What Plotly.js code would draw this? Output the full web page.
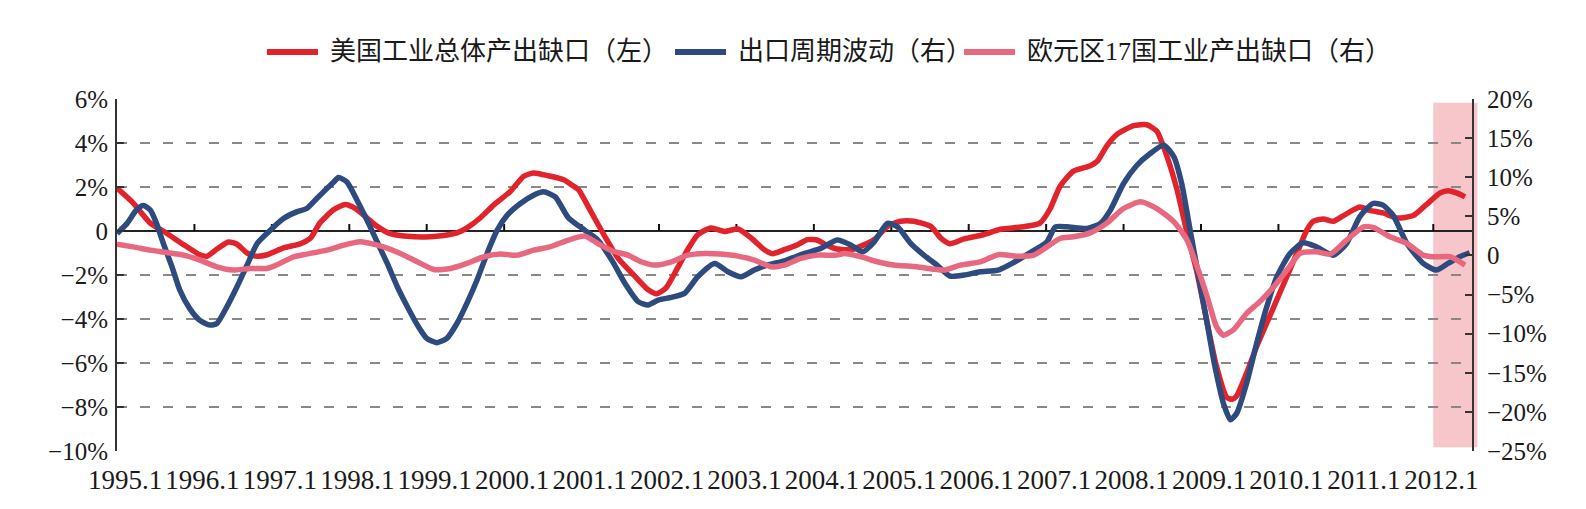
<!DOCTYPE html>
<html>
<head>
<meta charset="utf-8">
<script src="https://cdn.plot.ly/plotly-3.0.1.min.js"></script>
<style>
html,body{margin:0;padding:0;background:#fff;}
#chart{width:1586px;height:509px;}
</style>
</head>
<body>
<div id="chart"></div>
<script>
// ---------- series names ----------
const nameUS = '美国工业总体产出缺口（左）';
const nameExport = '出口周期波动（右）';
const nameEU = '欧元区17国工业产出缺口（右）';

// ---------- US industrial output gap (left axis, %) ----------
const usX = [1995.00,1995.21,1995.43,1995.64,1995.86,1996.07,1996.16,1996.29,1996.44,1996.55,1996.68,1996.81,1996.94,
  1997.15,1997.37,1997.50,1997.62,1997.80,1997.95,1998.10,1998.23,1998.36,1998.53,1998.75,1998.98,1999.22,1999.39,
  1999.52,1999.69,1999.87,2000.08,2000.25,2000.38,2000.56,2000.77,2000.90,2000.96,2001.13,2001.30,2001.47,2001.69,
  2001.86,2001.97,2002.09,2002.24,2002.37,2002.50,2002.67,2002.85,2003.02,2003.19,2003.36,2003.47,2003.62,2003.79,
  2003.92,2004.05,2004.18,2004.30,2004.48,2004.60,2004.78,2004.95,2005.12,2005.29,2005.51,2005.64,2005.76,2005.94,
  2006.19,2006.41,2006.67,2006.92,2007.05,2007.18,2007.35,2007.57,2007.66,2007.78,2007.91,2008.13,2008.30,2008.43,
  2008.56,2008.69,2008.82,2008.95,2009.08,2009.20,2009.33,2009.40,2009.46,2009.59,2009.72,2009.85,2009.98,2010.11,
  2010.24,2010.37,2010.45,2010.58,2010.71,2010.84,2011.05,2011.18,2011.35,2011.53,2011.74,2011.91,2012.09,2012.19,
  2012.30,2012.41];
const usY = [1.95,1.27,0.36,-0.10,-0.62,-1.08,-1.15,-0.82,-0.50,-0.60,-1.00,-1.15,-1.08,
  -0.77,-0.58,-0.32,0.36,0.97,1.20,0.97,0.59,0.21,-0.12,-0.24,-0.27,-0.20,-0.09,
  0.14,0.59,1.20,1.80,2.48,2.64,2.52,2.33,2.03,1.88,0.82,-0.24,-1.23,-2.06,
  -2.67,-2.85,-2.59,-1.68,-0.85,-0.17,0.14,-0.02,0.09,-0.32,-0.85,-1.03,-0.85,-0.62,
  -0.39,-0.42,-0.67,-0.82,-0.85,-0.70,-0.39,0.21,0.44,0.44,0.21,-0.32,-0.58,-0.36,
  -0.17,0.08,0.18,0.36,1.00,2.03,2.71,2.97,3.17,3.85,4.38,4.79,4.83,4.53,
  3.39,1.88,-0.09,-1.91,-4.18,-6.15,-7.55,-7.65,-7.50,-6.45,-5.24,-4.18,-3.12,-2.06,
  -1.00,0.06,0.44,0.55,0.44,0.70,1.09,0.94,0.82,0.59,0.70,1.20,1.73,1.83,
  1.73,1.55];

// ---------- export cycle (right axis, %) ----------
const expX = [1995.00,1995.13,1995.25,1995.34,1995.43,1995.51,1995.60,1995.71,1995.81,1995.94,1996.07,1996.20,1996.29,
  1996.42,1996.55,1996.68,1996.81,1996.98,1997.15,1997.32,1997.45,1997.58,1997.71,1997.80,1997.86,1997.97,1998.10,
  1998.23,1998.36,1998.49,1998.62,1998.75,1998.88,1999.00,1999.13,1999.26,1999.39,1999.52,1999.65,1999.78,1999.91,
  2000.04,2000.21,2000.38,2000.51,2000.66,2000.83,2001.04,2001.21,2001.39,2001.56,2001.73,2001.86,2001.99,2002.16,
  2002.33,2002.50,2002.72,2002.89,2003.06,2003.23,2003.40,2003.62,2003.88,2004.09,2004.30,2004.48,2004.63,2004.78,
  2004.95,2005.08,2005.25,2005.42,2005.59,2005.76,2005.94,2006.15,2006.38,2006.58,2006.80,2007.01,2007.12,2007.27,
  2007.53,2007.70,2007.83,2008.00,2008.17,2008.34,2008.52,2008.65,2008.75,2008.86,2008.97,2009.08,2009.18,2009.29,
  2009.38,2009.46,2009.59,2009.72,2009.85,2009.98,2010.15,2010.32,2010.49,2010.71,2010.88,2011.05,2011.22,2011.35,
  2011.48,2011.66,2011.87,2012.04,2012.19,2012.34,2012.47];
const expY = [2.81,4.10,5.80,6.40,5.80,4.10,1.50,-1.45,-4.40,-6.80,-8.30,-8.90,-8.70,
  -6.55,-4.00,-1.23,1.53,3.23,4.72,5.57,6.00,7.28,8.55,9.40,9.96,9.40,7.06,
  4.50,1.74,-1.02,-4.00,-6.55,-8.90,-10.60,-11.15,-10.60,-8.70,-6.10,-3.15,0.26,3.23,
  5.15,6.64,7.70,8.13,7.49,4.80,3.23,1.96,-0.60,-3.57,-5.90,-6.34,-5.70,-5.36,
  -4.85,-2.72,-1.02,-2.08,-2.72,-1.87,-1.23,-0.68,0.26,0.90,1.96,1.32,0.47,1.74,
  4.10,3.66,1.53,0.04,-1.23,-2.64,-2.51,-2.08,-1.87,-0.90,0.40,1.74,3.66,3.66,
  3.45,4.10,5.80,9.20,11.50,13.00,14.10,12.60,9.20,3.23,-2.72,-8.70,-14.20,-18.90,
  -21.00,-20.20,-16.30,-11.20,-6.55,-2.72,0.26,1.62,1.11,0.04,1.53,4.94,6.64,6.43,
  5.15,1.53,-1.02,-1.87,-1.02,-0.17,0.34];

// ---------- Euro area 17 industrial output gap (right axis, %) ----------
const euX = [1995.00,1995.21,1995.43,1995.64,1995.86,1996.07,1996.29,1996.50,1996.72,1996.94,1997.06,1997.28,1997.45,
  1997.71,1997.93,1998.14,1998.23,1998.44,1998.66,1998.88,1999.09,1999.31,1999.52,1999.74,1999.95,2000.17,2000.38,
  2000.59,2000.83,2001.04,2001.21,2001.39,2001.60,2001.77,2001.94,2002.16,2002.37,2002.59,2002.80,2003.02,2003.23,
  2003.45,2003.62,2003.83,2004.05,2004.30,2004.39,2004.61,2004.82,2005.03,2005.33,2005.68,2005.89,2006.15,2006.38,
  2006.62,2006.84,2007.01,2007.18,2007.35,2007.57,2007.78,2008.00,2008.22,2008.43,2008.65,2008.82,2008.95,2009.08,
  2009.20,2009.29,2009.42,2009.59,2009.76,2009.94,2010.11,2010.28,2010.49,2010.67,2010.88,2011.10,2011.23,2011.44,
  2011.66,2011.87,2012.00,2012.22,2012.41];
const euY = [1.45,1.10,0.68,0.38,0.04,-0.60,-1.45,-1.87,-1.66,-1.66,-1.23,-0.17,0.17,
  0.68,1.32,1.74,1.62,1.11,0.26,-0.81,-1.79,-1.66,-1.02,-0.17,0.17,0.04,0.68,
  1.10,1.96,2.47,1.53,0.60,0.04,-0.81,-1.23,-0.81,0.04,0.26,0.17,-0.09,-0.60,
  -1.45,-1.23,-0.38,0.04,0.04,0.26,-0.17,-0.81,-1.23,-1.45,-1.87,-1.23,-0.81,0.10,
  -0.09,0.04,1.10,2.17,2.38,2.89,4.10,6.00,6.85,6.00,4.30,1.96,-1.45,-5.28,
  -9.10,-10.20,-9.50,-7.40,-5.90,-4.00,-1.87,0.26,0.47,0.17,1.96,3.66,3.57,2.38,
  1.53,0.04,-0.17,-0.17,-1.23];

// ---------- axis ticks ----------
const yearTicks = [1995,1996,1997,1998,1999,2000,2001,2002,2003,2004,2005,2006,2007,2008,2009,2010,2011,2012];
const yearLabels = ['1995.1','1996.1','1997.1','1998.1','1999.1','2000.1','2001.1','2002.1','2003.1',
  '2004.1','2005.1','2006.1','2007.1','2008.1','2009.1','2010.1','2011.1','2012.1'];
const leftTicks = [-10,-8,-6,-4,-2,0,2,4,6];
const leftLabels = ['−10%','−8%','−6%','−4%','−2%','0','2%','4%','6%'];
const rightTicks = [-25,-20,-15,-10,-5,0,5,10,15,20];
const rightLabels = ['−25%','−20%','−15%','−10%','−5%','0','5%','10%','15%','20%'];
const xRange = [1995, 2012.5];
const leftRange = [-10, 6];
const rightRange = [-25, 20];
const shadeStart = 2012.0, shadeEnd = 2012.57;

// ---------- style ----------
const colRed = '#e1242c', colBlue = '#2d4b7e', colPink = '#e8697f';
const serif = '"Liberation Serif", "Times New Roman", serif';
const cjk = '"Liberation Serif", "Noto Sans CJK SC", serif';
const lineW = 5.5;

const series = [
  {x: usX, y: usY, name: nameUS, axis: 'y', color: colRed},
  {x: expX, y: expY, name: nameExport, axis: 'y2', color: colBlue},
  {x: euX, y: euY, name: nameEU, axis: 'y2', color: colPink}
];

// ---------- geometry of the plot area ----------
const plotL = 117, plotW = 1355, plotB = 451, plotH = 352;
const toPaperX = v => (v - xRange[0]) / (xRange[1] - xRange[0]);
const tickH = 7 * (leftRange[1] - leftRange[0]) / plotH;   // 7px in left-axis units

// small upward tick marks on the zero line at every year, drawn as one broken line
const zeroTickX = [], zeroTickY = [];
yearTicks.slice(1).forEach(yr => { zeroTickX.push(yr, yr, null); zeroTickY.push(0, tickH, null); });

const traces = [{
  x: zeroTickX, y: zeroTickY, type: 'scatter', mode: 'lines', xaxis: 'x', yaxis: 'y',
  showlegend: false, hoverinfo: 'skip', connectgaps: false, line: {color: '#111', width: 2}
}].concat(series.map(s => ({
  x: s.x, y: s.y, name: s.name, type: 'scatter', mode: 'lines', xaxis: 'x', yaxis: s.axis,
  showlegend: false,
  line: {color: s.color, width: lineW, shape: 'spline', smoothing: 0.6}
})));

// ---------- legend drawn at the top (line sample + text) ----------
const legendY = (plotB - 52) / plotH;
const legendSampleX = [267, 675, 964];   // left pixel of each sample
const sampleLen = 51, textGap = 10;
const legendShapes = series.map((s, i) => ({
  type: 'line', xref: 'paper', yref: 'paper',
  x0: (legendSampleX[i] - plotL) / plotW, x1: (legendSampleX[i] + sampleLen - plotL) / plotW,
  y0: legendY, y1: legendY, line: {color: s.color, width: 6}
}));
const legendTexts = series.map((s, i) => ({
  xref: 'paper', yref: 'paper', x: (legendSampleX[i] + sampleLen + textGap - plotL) / plotW, y: legendY,
  xanchor: 'left', yanchor: 'middle', showarrow: false, text: s.name,
  font: {family: cjk, size: 26, color: '#1a1a1a'}
}));

const layout = {
  width: 1586, height: 509,
  margin: {l: 117, r: 114, t: 99, b: 58},
  paper_bgcolor: '#fff', plot_bgcolor: 'rgba(0,0,0,0)',
  font: {family: serif, size: 25, color: '#1a1a1a'},
  showlegend: false,
  xaxis: {type: 'linear', range: xRange, tickvals: yearTicks, ticktext: yearLabels,
          showgrid: false, zeroline: false, showline: false, ticks: 'outside', ticklen: 5,
          tickcolor: 'rgba(0,0,0,0)', ticklabelshift: 8, tickfont: {family: serif, size: 27}},
  yaxis: {range: leftRange, tickvals: leftTicks, ticktext: leftLabels, showgrid: true,
          gridcolor: '#888', gridwidth: 1.5, griddash: '10px,13px',
          zeroline: true, zerolinecolor: '#222', zerolinewidth: 2,
          showline: true, linecolor: '#333', linewidth: 2, ticks: 'inside', ticklen: 7,
          tickwidth: 2, tickcolor: '#333', ticklabelstandoff: 2, tickfont: {family: serif, size: 25}},
  yaxis2: {range: rightRange, overlaying: 'y', side: 'right', tickvals: rightTicks, ticktext: rightLabels,
           showgrid: false, zeroline: false, showline: true, linecolor: '#333', linewidth: 2,
           ticks: 'inside', ticklen: 7, tickwidth: 2, tickcolor: '#333', ticklabelstandoff: 8,
           tickfont: {family: serif, size: 25}},
  shapes: [
    {type: 'rect', xref: 'paper', yref: 'paper', x0: toPaperX(shadeStart), x1: toPaperX(shadeEnd),
     y0: 0.011, y1: 0.989, fillcolor: '#f6c6cb', line: {width: 0}, layer: 'below'}
  ].concat(legendShapes),
  annotations: legendTexts
};

Plotly.newPlot('chart', traces, layout, {staticPlot: true, displayModeBar: false});
</script>
</body>
</html>
